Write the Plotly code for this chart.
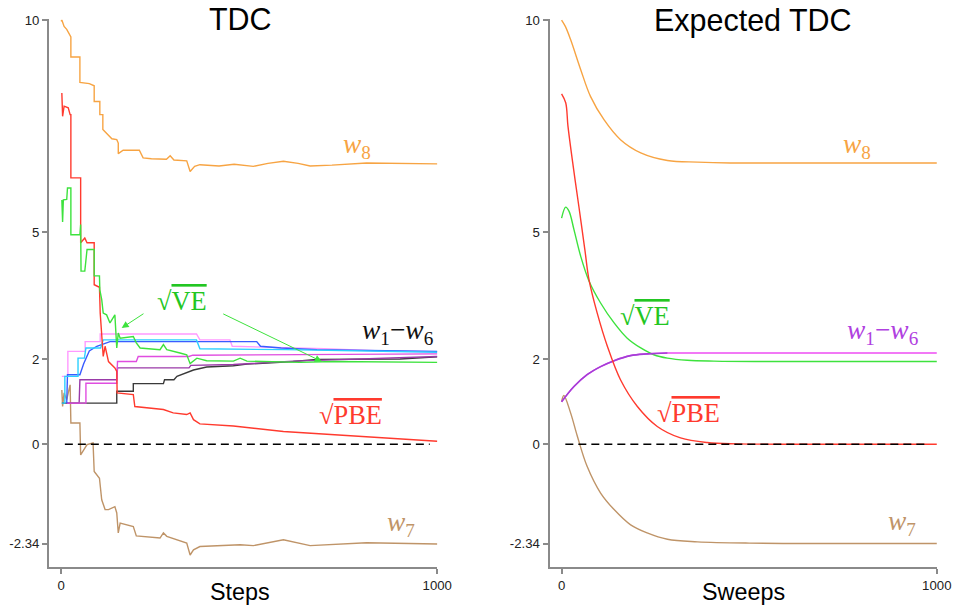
import plotly.graph_objects as go

# ---------------- DATA (left panel: TDC, per step) ----------------
w8_steps_x = [0, 2, 8, 15, 26, 26, 50, 50, 75, 88, 88, 103, 103, 111, 111, 125, 135, 148, 152, 152,
              165, 208, 218, 240, 280, 290, 300, 334, 343, 355, 369, 420, 460, 511, 550, 591, 630, 662, 720, 812,
              900, 1000]
w8_steps_y = [9.97, 10.0, 9.85, 9.78, 9.6, 9.13, 9.13, 8.53, 8.5, 8.45, 8.08, 8.08, 7.77, 7.77, 7.42, 7.3, 7.2, 7.18, 7.1, 6.85,
              6.93, 6.93, 6.75, 6.73, 6.72, 6.8, 6.7, 6.68, 6.43, 6.55, 6.59, 6.56, 6.6, 6.55, 6.62, 6.67, 6.62, 6.56, 6.58, 6.63,
              6.62, 6.61]

pbe_steps_x = [2, 4, 8, 19, 24, 26, 26, 52, 52, 63, 69, 88, 88, 102, 104, 112, 117, 126, 143, 148, 149,
               192, 196, 272, 298, 334, 343, 352, 369, 458, 591, 724, 856, 1000]
pbe_steps_y = [8.28, 7.73, 7.97, 7.93, 7.77, 7.77, 6.28, 6.28, 4.75, 4.86, 4.75, 4.75, 3.76, 3.7, 3.09, 2.07, 2.31, 1.95, 1.80, 1.72, 1.21,
               1.17, 0.89, 0.82, 0.74, 0.70, 0.74, 0.58, 0.48, 0.43, 0.30, 0.22, 0.14, 0.07]

ve_steps_x = [2, 4, 6, 15, 17, 26, 26, 50, 52, 53, 63, 69, 88, 88, 102, 103, 108, 112, 121, 130, 143, 148, 152, 157,
              192, 200, 210, 263, 272, 281, 316, 334, 343, 361, 387, 458, 476, 494, 635, 724, 1000]
ve_steps_y = [5.76, 5.24, 5.76, 5.77, 6.04, 6.04, 4.94, 4.94, 5.18, 4.08, 4.08, 4.59, 4.59, 3.97, 3.97, 3.64, 3.41, 3.09, 3.05, 2.86, 3.05, 2.27, 2.62, 2.50,
              2.54, 2.39, 2.27, 2.23, 2.35, 2.23, 2.15, 2.11, 1.90, 2.03, 1.97, 1.96, 2.03, 1.96, 1.93, 1.95, 1.93]

w7_steps_x = [2, 4, 8, 15, 20, 24, 26, 50, 52, 63, 69, 85, 88, 102, 108, 117, 126, 143, 148, 152, 157,
              192, 200, 263, 272, 281, 334, 343, 352, 369, 476, 511, 591, 662, 812, 1000]
w7_steps_y = [1.28, 0.89, 1.21, 1.05, 1.25, 1.40, 0.50, 0.50, -0.25, -0.09, -0.01, 0.03, -0.64, -0.80, -1.31, -1.54, -1.54, -1.47, -1.62, -2.09, -1.86,
              -1.94, -2.16, -2.21, -2.09, -2.17, -2.33, -2.61, -2.49, -2.41, -2.37, -2.39, -2.25, -2.39, -2.32, -2.35]

w_blue_x = [15, 17, 50, 60, 75, 95, 130, 520, 530, 585, 680, 1000]
w_blue_y = [0.97, 1.64, 1.64, 1.9, 2.2, 2.31, 2.42, 2.42, 2.31, 2.27, 2.23, 2.19]

w_cyan_x = [2, 10, 10, 45, 45, 62, 66, 105, 112, 360, 369, 600, 1000]
w_cyan_y = [0.97, 0.97, 1.6, 1.6, 2.03, 2.03, 2.27, 2.27, 2.46, 2.46, 2.25, 2.23, 2.17]

w_pink_x = [2, 18, 18, 64, 64, 104, 104, 360, 369, 449, 455, 600, 700, 850, 1000]
w_pink_y = [1.6, 1.6, 2.19, 2.19, 2.42, 2.42, 2.6, 2.6, 2.46, 2.46, 2.31, 2.28, 2.25, 2.2, 2.18]

w_magenta_x = [15, 66, 66, 148, 150, 200, 205, 340, 350, 1000]
w_magenta_y = [0.97, 0.97, 1.44, 1.44, 1.95, 1.95, 2.07, 2.07, 2.1, 2.13]

w_purple_x = [15, 48, 50, 148, 150, 340, 345, 458, 617, 800, 1000]
w_purple_y = [0.97, 0.97, 1.52, 1.52, 1.80, 1.80, 1.86, 1.88, 1.96, 2.02, 2.07]

w_black_x = [2, 148, 148, 192, 192, 272, 275, 300, 308, 330, 352, 387, 458, 494, 617, 680, 901, 1000]
w_black_y = [0.97, 0.97, 1.25, 1.25, 1.43, 1.43, 1.52, 1.52, 1.60, 1.68, 1.75, 1.82, 1.85, 1.89, 1.95, 2.0, 2.01, 2.06]

# ---------------- DATA (right panel: Expected TDC, per sweep) ----------------
w8_sweeps_x = [0, 10, 24, 51, 77, 113, 157, 211, 282, 362, 450, 600, 800, 1000]
w8_sweeps_y = [10.0, 9.85, 9.54, 8.83, 8.2, 7.65, 7.18, 6.87, 6.69, 6.65, 6.63, 6.63, 6.63, 6.63]

pbe_sweeps_x = [0, 11, 17, 31, 46, 62, 73, 95, 122, 157, 202, 255, 317, 388, 470, 600, 1000]
pbe_sweeps_y = [8.26, 8.05, 7.5, 6.55, 5.61, 4.59, 3.88, 3.09, 2.31, 1.52, 0.89, 0.42, 0.15, 0.04, 0.01, 0.0, 0.0]

ve_sweeps_x = [0, 11, 20, 33, 51, 73, 104, 140, 175, 211, 246, 282, 335, 406, 550, 1000]
ve_sweeps_y = [5.33, 5.59, 5.49, 5.06, 4.43, 3.85, 3.33, 2.86, 2.50, 2.27, 2.11, 2.03, 1.98, 1.96, 1.95, 1.95]

w16_sweeps_x = [0, 33, 68, 104, 140, 184, 228, 282, 400, 1000]
w16_sweeps_y = [1.0, 1.36, 1.64, 1.83, 1.97, 2.09, 2.13, 2.15, 2.15, 2.15]

w7_sweeps_x = [0, 6, 24, 42, 68, 104, 140, 184, 228, 282, 362, 500, 1000]
w7_sweeps_y = [1.0, 1.15, 0.74, 0.19, -0.52, -1.15, -1.54, -1.90, -2.09, -2.24, -2.30, -2.33, -2.34]

zero_x = [10, 980]
zero_y = [0, 0]

y_tickvals = [10, 5, 2, 0, -2.34]
y_ticktext = ["10", "5", "2", "0", "-2.34"]
x_tickvals = [0, 1000]
x_ticktext = ["0", "1000"]

# ---------------- STYLE ----------------
C_W8 = "#f7a443"
C_PBE = "#ff3a2e"
C_VE = "#3de23d"
C_W7 = "#bf9468"
C_BLUE = "#3a5cff"
C_CYAN = "#2cd0ff"
C_PINK = "#ff99ff"
C_MAG = "#e04de0"
C_PURP = "#9a3aa8"
C_BLACK = "#3a3a3a"
C_W16R = "#ee4cf4"
C_W16P = "#a43fd6"
AX = "#8a8a8a"

# photographed picture ~ page scaled by these factors, with a small top offset
KX = 955 / 970
KY = 607 / 616
TOP = 9
W = 970
H = 607
LW = 1.4


def PX(px):
    return (px / KX) / W


def PY(py):
    return 1 - (py / KY - TOP) / H


def FS(s):
    return s / KX


fig = go.Figure()


def add(x, y, color, xa="x", ya="y", shape="linear", width=LW, dash=None):
    fig.add_trace(go.Scatter(x=x, y=y, mode="lines", xaxis=xa, yaxis=ya,
                             line=dict(color=color, width=width, shape=shape, dash=dash),
                             showlegend=False, hoverinfo="skip"))


# left panel
add(w8_steps_x, w8_steps_y, C_W8)
add(w7_steps_x, w7_steps_y, C_W7)
add(w_black_x, w_black_y, C_BLACK)
add(w_purple_x, w_purple_y, C_PURP)
add(w_magenta_x, w_magenta_y, C_MAG)
add(w_pink_x, w_pink_y, C_PINK)
add(w_blue_x, w_blue_y, C_BLUE)
add(w_cyan_x, w_cyan_y, C_CYAN)
add(pbe_steps_x, pbe_steps_y, C_PBE)
add(ve_steps_x, ve_steps_y, C_VE)
add(zero_x, zero_y, "#000000", width=1.3, dash="8px,5px")

# right panel
add(w8_sweeps_x, w8_sweeps_y, C_W8, "x2", "y2", "spline")
add(w7_sweeps_x, w7_sweeps_y, C_W7, "x2", "y2", "spline")
add(ve_sweeps_x, ve_sweeps_y, C_VE, "x2", "y2", "spline")
add(w16_sweeps_x, w16_sweeps_y, C_W16R, "x2", "y2", "spline", width=1.5)
add(w16_sweeps_x[:8], w16_sweeps_y[:8], C_W16P, "x2", "y2", "spline", width=1.6)
add(pbe_sweeps_x, pbe_sweeps_y, C_PBE, "x2", "y2", "spline")
add(zero_x, zero_y, "#000000", "x2", "y2", width=1.3, dash="8px,5px")

xdom1 = [PX(49), PX(437)]
xdom2 = [PX(549), PX(936)]
ydom = [PY(567), PY(21)]

axis_common = dict(showgrid=False, zeroline=False, showline=True, linecolor=AX, linewidth=2,
                   ticks="outside", ticklen=5, tickwidth=1.5, tickcolor=AX,
                   tickfont=dict(family="Liberation Sans, Arial", size=FS(13), color="#222"))

fig.update_layout(
    width=W, height=H, margin=dict(l=0, r=0, t=0, b=0),
    paper_bgcolor="white", plot_bgcolor="white",
    xaxis=dict(domain=xdom1, range=[-32, 1000.5], tickvals=x_tickvals, ticktext=x_ticktext, anchor="y", **axis_common),
    yaxis=dict(domain=ydom, range=[-2.89, 10.02], tickvals=y_tickvals, ticktext=y_ticktext, anchor="x", **axis_common),
    xaxis2=dict(domain=xdom2, range=[-32, 1000.5], tickvals=x_tickvals, ticktext=x_ticktext, anchor="y2", **axis_common),
    yaxis2=dict(domain=ydom, range=[-2.89, 10.02], tickvals=y_tickvals, ticktext=y_ticktext, anchor="x2", **axis_common),
)

SANS = "Liberation Sans, Arial"
SERIF = "Liberation Serif, Times New Roman"
ann = []


def label(px, py, text, size, color, family):
    ann.append(dict(x=PX(px), y=PY(py), xref="paper", yref="paper", text=text, showarrow=False,
                    xanchor="center", yanchor="middle", font=dict(family=family, size=FS(size), color=color)))


OV = "<span style='text-decoration:overline'>"
label(240, 21, "TDC", 30, "#000", SANS)
label(752, 22, "Expected TDC", 30, "#000", SANS)
label(240, 592, "Steps", 23, "#000", SANS)
label(743, 592, "Sweeps", 23, "#000", SANS)

label(357, 147, "<i>w</i><sub>8</sub>", 27, C_W8, SERIF)
label(398, 333, "<i>w</i><sub>1</sub>−<i>w</i><sub>6</sub>", 27, "#111", SERIF)
label(350, 416, "√" + OV + "PBE</span>", 26, C_PBE, SERIF)
label(401, 524, "<i>w</i><sub>7</sub>", 27, C_W7, SERIF)
label(182, 302, "√" + OV + "VE</span>", 26, "#22c622", SERIF)

label(856, 147, "<i>w</i><sub>8</sub>", 27, C_W8, SERIF)
label(644, 317, "√" + OV + "VE</span>", 26, "#22c622", SERIF)
label(882, 333, "<i>w</i><sub>1</sub>−<i>w</i><sub>6</sub>", 27, "#b040e0", SERIF)
label(688, 414, "√" + OV + "PBE</span>", 26, C_PBE, SERIF)
label(901, 523, "<i>w</i><sub>7</sub>", 27, C_W7, SERIF)

# arrows from the VE label to the VE curve (left panel)
ann.append(dict(x=161, y=2.74, ax=223, ay=3.10, xref="x", yref="y", axref="x", ayref="y", text="",
                showarrow=True, arrowhead=2, arrowsize=1.4, arrowwidth=1, arrowcolor=C_VE))
ann.append(dict(x=693, y=1.95, ax=427, ay=3.09, xref="x", yref="y", axref="x", ayref="y", text="",
                showarrow=True, arrowhead=2, arrowsize=1.4, arrowwidth=1, arrowcolor=C_VE))

fig.update_layout(annotations=ann)
fig.write_html("out.html", config={"displayModeBar": False},
               post_script="document.body.style.margin='0';document.body.style.overflow='hidden';")
